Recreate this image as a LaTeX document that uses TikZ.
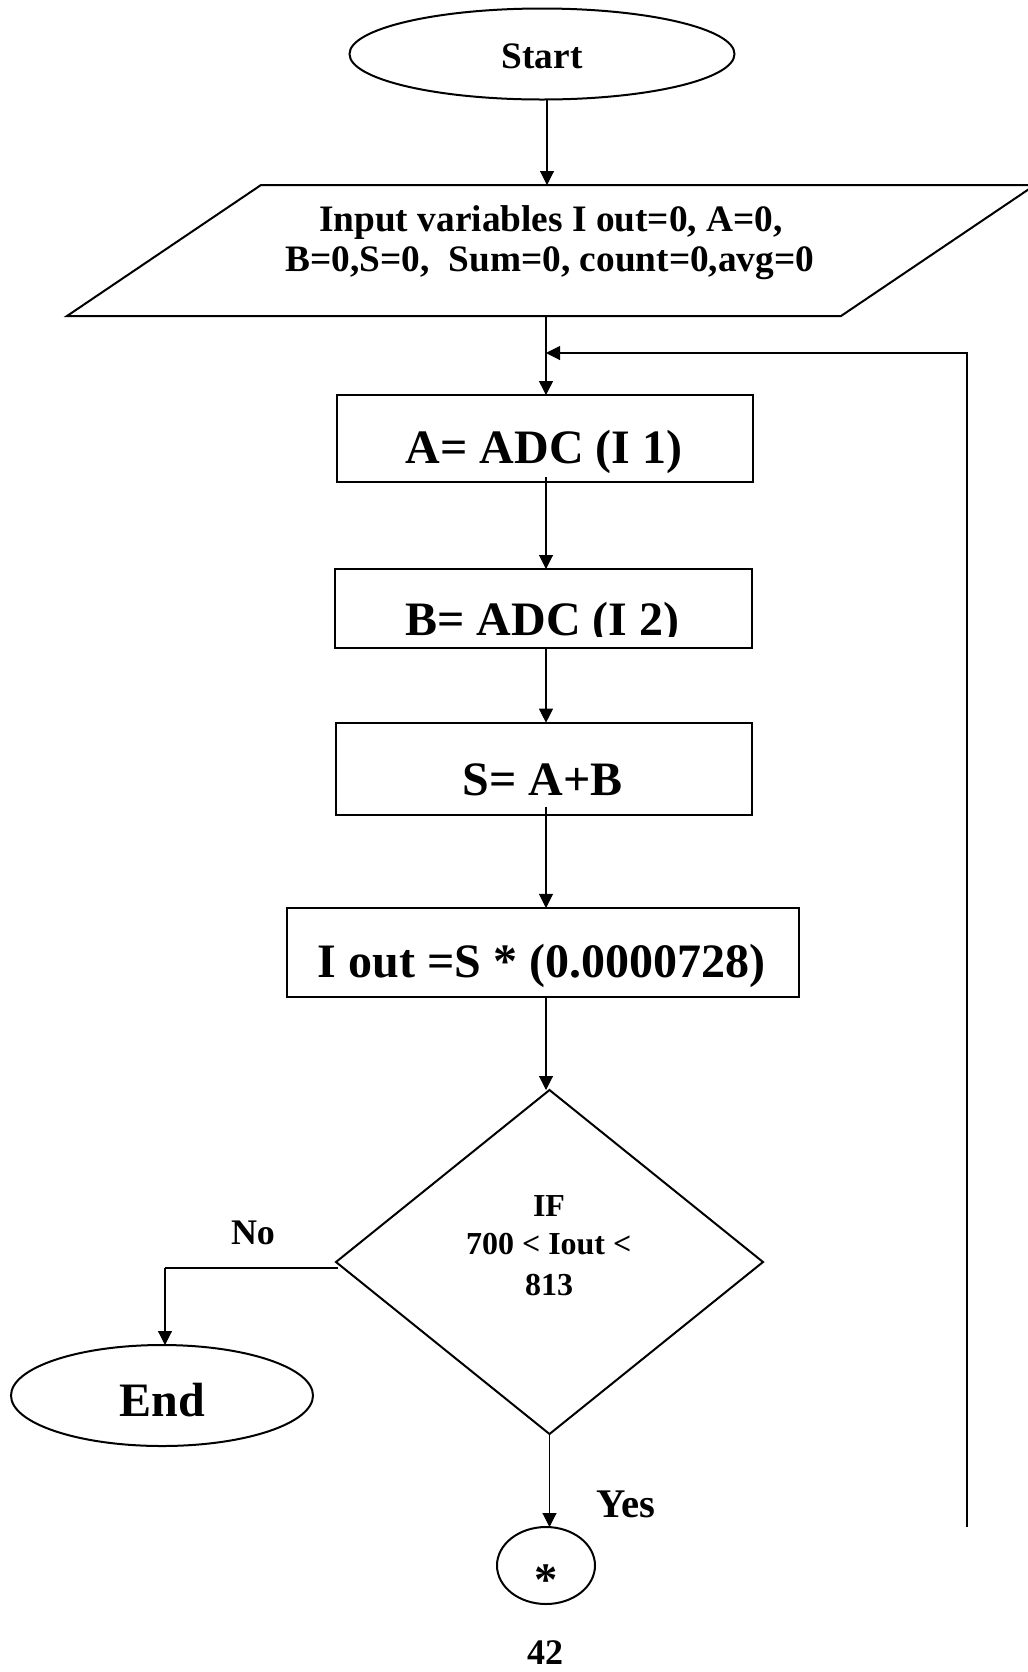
\documentclass[tikz,border=0pt]{standalone}
\usepackage{fontspec}
\setmainfont{Liberation Serif}
\usetikzlibrary{shapes.geometric,arrows.meta}
\begin{document}
\begin{tikzpicture}[x=0.75pt,y=-0.75pt,
  shp/.style={draw,line width=1.5pt,inner sep=0pt,outer sep=0pt},
  rectbox/.style={shp,rectangle},
  oval/.style={shp,ellipse},
  lbl/.style={inner sep=0pt,anchor=base},
  fA/.style={font=\fontsize{28pt}{34pt}\selectfont\bfseries},
  fB/.style={font=\fontsize{36pt}{43pt}\selectfont\bfseries},
  fC/.style={font=\fontsize{24pt}{29pt}\selectfont\bfseries},
  fD/.style={font=\fontsize{30.5pt}{36pt}\selectfont\bfseries},
  fE/.style={font=\fontsize{27pt}{32pt}\selectfont\bfseries},
  conn/.style={line width=0.8pt},
  arr/.style={conn,-{Triangle[length=10.5pt,width=10.5pt]}},
]
\useasboundingbox (0,0) rectangle (1028,1672);
\fill[white] (0,0) rectangle (1028,1672);

% Start
\node[oval,minimum width=288.75pt,minimum height=68.25pt] (start) at (542,54) {};
\node[lbl,fA] (tstart) at (542,68) {Start};

% Input parallelogram
\coordinate (p1) at (261,185);
\coordinate (p2) at (1035,185);
\coordinate (p3) at (841,316);
\coordinate (p4) at (67,316);
\draw[line width=1.5pt,line join=miter] (p1) -- (p2) -- (p3) -- (p4) -- cycle;
\node[lbl,fA] (tin1) at (551,231) {Input variables I out=0, A=0,};
\node[lbl,fA] (tin2) at (550,271) {B=0,S=0,\ \ Sum=0, count=0,avg=0};
\coordinate (inTop) at (547,185);
\coordinate (inBot) at (546,316);

% Process boxes
\node[rectbox,minimum width=312pt,minimum height=65pt] (r1) at (545,438.4) {};
\node[lbl,fB] (t1) at (544,463) {A= ADC (I 1)};

\node[rectbox,minimum width=313pt,minimum height=59.25pt] (r2) at (543.3,608.5) {};
\begin{scope}
  \clip (300,560) rectangle (800,636.5);
  \node[lbl,fB] (t2) at (542.5,635) {B= ADC (I 2)};
\end{scope}

\node[rectbox,minimum width=312.2pt,minimum height=69.2pt] (r3) at (543.8,768.8) {};
\node[lbl,fB] (t3) at (542.7,795) {S= A+B};

\node[rectbox,minimum width=384pt,minimum height=66.5pt] (r4) at (542.7,952.3) {};
\node[lbl,fB] (t4) at (541.5,977) {I out =S * (0.0000728)};

% Decision
\node[shp,diamond,minimum width=320.25pt,minimum height=258pt] (dia) at (549.5,1262) {};
\node[lbl,fC] (td1) at (549,1216.7) {IF};
\node[lbl,fC] (td2) at (548.7,1254) {700 < Iout <};
\node[lbl,fC] (td3) at (549,1295) {813};

% End
\node[oval,minimum width=226.5pt,minimum height=75.75pt] (end) at (162,1395.5) {};
\node[lbl,fB] (tend) at (162,1416) {End};

% Connector circle
\node[oval,minimum width=73.5pt,minimum height=57.75pt] (circ) at (546,1565.5) {};
\node[lbl,font=\fontsize{35pt}{42pt}\selectfont\bfseries] (tstar) at (546,1595) {*};

% Labels
\node[lbl,fE] (tno) at (253,1244) {No};
\node[lbl,fD] (tyes) at (626,1517) {Yes};
\node[lbl,fE] (tpage) at (545,1664) {42};

% Connectors
\coordinate (spine) at (546,0);
\draw[arr] (start.south -| inTop) -- (inTop);
\draw[arr] (inBot) -- (r1.north -| inBot);
\draw[arr] ([yshift=3.5pt]r1.south -| spine) -- (r2.north -| spine);
\draw[arr] (r2.south -| spine) -- (r3.north -| spine);
\draw[arr] ([yshift=6pt]r3.south -| spine) -- (r4.north -| spine);
\draw[arr] (r4.south -| spine) -- (dia.north -| spine);
\coordinate (noTurn) at (165,1268);
\coordinate (noStart) at (338,1268);
\draw[conn] (noStart) -- (noTurn);
\draw[arr] (noTurn) -- (noTurn |- end.north);
\draw[arr] (dia.south) -- (dia.south |- circ.north);

% Loop back
\coordinate (lb) at (967,1527);
\coordinate (lt) at (967,353);
\coordinate (lj) at (546,353);
\draw[arr] (lb) -- (lt) -- (lj);
\end{tikzpicture}
\end{document}
